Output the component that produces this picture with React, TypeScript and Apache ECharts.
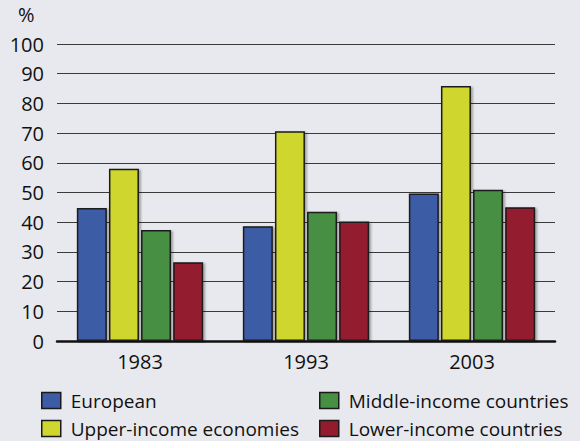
import React, { useEffect, useRef } from "react";
import * as echarts from "echarts";

const categories = ["1983", "1993", "2003"];
const seriesNames = [
  "European",
  "Upper-income economies",
  "Middle-income countries",
  "Lower-income countries",
];
const european = [44.8, 38.6, 49.7];
const upperIncome = [58.0, 70.6, 85.9];
const middleIncome = [37.4, 43.5, 50.9];
const lowerIncome = [26.5, 40.2, 45.0];
const colors = ["#3d5ca6", "#cfd72f", "#468f43", "#931b2d"];

const FONT = "'Open Sans', 'Noto Sans', sans-serif";
const TXT = "#111";

export default function App() {
  const ref = useRef<HTMLDivElement>(null);
  useEffect(() => {
    if (!ref.current) return;
    const chart = echarts.init(ref.current, null, { renderer: "svg" });
    const values = [european, upperIncome, middleIncome, lowerIncome];
    const legendBase = {
      top: 391,
      orient: "vertical",
      padding: 0,
      icon: "rect",
      itemWidth: 19,
      itemHeight: 16,
      itemGap: 9,
      textStyle: {
        fontSize: 19,
        lineHeight: 16,
        fontFamily: FONT,
        color: TXT,
        padding: [0, 0, 0, 5],
      },
      itemStyle: { borderColor: "#1a1a1a", borderWidth: 1.5 },
    };
    chart.setOption({
      animation: false,
      backgroundColor: "#e8e9ee",
      textStyle: { fontFamily: FONT },
      grid: { left: 57, right: 25, top: 44, bottom: 100, containLabel: false },
      graphic: [
        {
          type: "text",
          left: 18,
          top: 4,
          style: { text: "%", fontSize: 20, fontFamily: FONT, fill: TXT },
        },
      ],
      legend: [
        { ...legendBase, left: 41, data: [seriesNames[0], seriesNames[1]] },
        { ...legendBase, left: 319, data: [seriesNames[2], seriesNames[3]] },
      ],
      xAxis: {
        type: "category",
        data: categories,
        axisTick: { show: false },
        axisLine: { show: true, lineStyle: { color: "#111", width: 2.5 } },
        axisLabel: { fontSize: 20, color: TXT, margin: 10, fontFamily: FONT },
      },
      yAxis: {
        type: "value",
        min: 0,
        max: 100,
        interval: 10,
        axisLine: { show: false },
        axisTick: { show: false },
        axisLabel: { fontSize: 20, color: TXT, margin: 13, fontFamily: FONT },
        splitLine: { show: true, lineStyle: { color: "#3a3a3a", width: 1.2 } },
      },
      series: seriesNames.map((name, i) => ({
        name,
        type: "bar",
        data: values[i],
        barWidth: 30,
        barGap: "7%",
        itemStyle: {
          color: colors[i],
          borderColor: "#1a1a1a",
          borderWidth: 1.5,
          shadowColor: "rgba(0,0,0,0.3)",
          shadowBlur: 2,
          shadowOffsetX: 2,
          shadowOffsetY: 1,
        },
      })),
    });
    return () => chart.dispose();
  }, []);
  return (
    <div
      ref={ref}
      style={{ position: "absolute", left: 0, top: 0, width: 580, height: 441 }}
    />
  );
}
